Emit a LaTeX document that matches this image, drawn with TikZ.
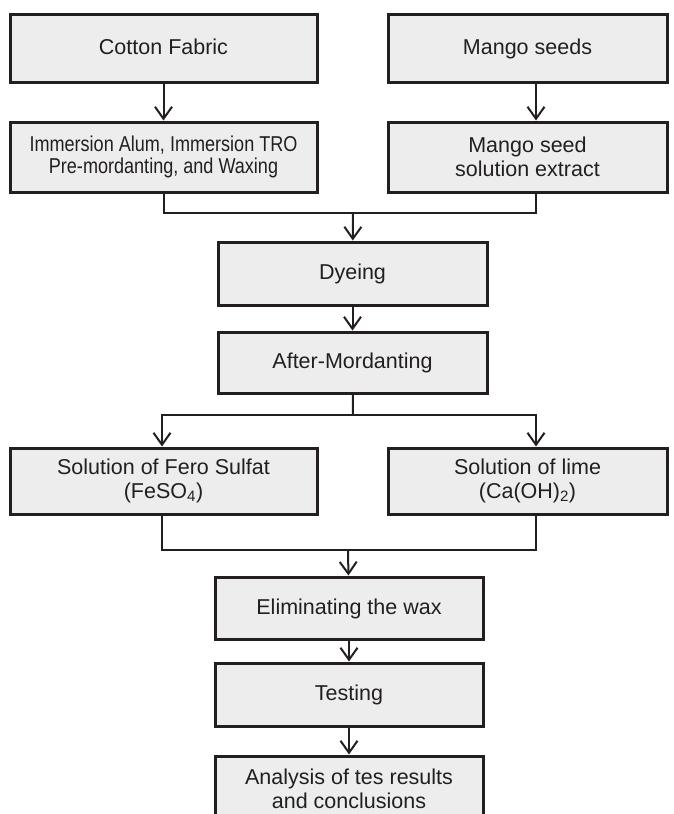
\documentclass[tikz,border=0pt]{standalone}
\usepackage{fontspec}
\setmainfont{Liberation Sans}
\usetikzlibrary{arrows.meta, positioning}
\definecolor{boxgray}{RGB}{237,237,237}
\definecolor{ink}{RGB}{35,31,32}

\begin{document}
\begin{tikzpicture}[x=1pt, y=-1pt,
  box/.style={draw=ink, line width=3pt, fill=boxgray, text=ink, align=center,
    inner sep=0pt, font=\fontsize{21.5}{24}\selectfont},
  oneline/.style={text height=16pt, text depth=4pt},
  link/.style={draw=ink, line width=2pt, line join=miter},
  arr/.style={link, -{Straight Barb[length=12pt, width=17pt, line width=2pt]}}]
\clip (0,0) rectangle (673,814);

% first two rows
\node[box, oneline, minimum width=307, minimum height=68] (cotton) at (163.5,48) {Cotton Fabric};
\node[box, oneline, minimum width=279, minimum height=68] (mango) at (527.5,48) {Mango seeds};
\node[box, minimum width=307, minimum height=70] (immersion) at (163.5,157)
  {\scalebox{0.84}[1]{\shortstack{Immersion Alum, Immersion TRO\\Pre-mordanting, and Waxing}}};
\node[box, minimum width=279, minimum height=70] (extract) at (527.5,157) {Mango seed\\solution extract};

% middle column
\node[box, oneline, minimum width=269, minimum height=63] (dyeing) at (352.5,273.5) {Dyeing};
\node[box, oneline, minimum width=269, minimum height=61] (after) at (352.5,362.5) {After-Mordanting};

% after-mordanting solutions
\node[box, minimum width=307, minimum height=66] (feso) at (163.5,481) {Solution of Fero Sulfat\\(FeSO\textsubscript{4})};
\node[box, minimum width=279, minimum height=66] (lime) at (527.5,481) {Solution of lime\\(Ca(OH)\textsubscript{2})};

% last steps
\node[box, oneline, minimum width=268, minimum height=62] (wax) at (349,608) {Eliminating the wax};
\node[box, oneline, minimum width=268, minimum height=63] (testing) at (349,694.5) {Testing};
\node[box, minimum width=268, minimum height=66] (analysis) at (349,789) {Analysis of tes results\\and conclusions};

\coordinate (join1) at (353,213);
\coordinate (split) at (353,415);
\coordinate (join2) at (348,550);

\draw[arr] (cotton) -- (immersion);
\draw[arr] ([xshift=8.5pt]mango.south) -- ([xshift=8.5pt]extract.north);
\draw[link] (immersion.south) |- (join1) -| ([xshift=8.5pt]extract.south);
\draw[arr] (join1) -- (dyeing);
\draw[arr] (dyeing) -- (after);
\draw[link] (after) -- (split);
\draw[arr] (split) -| ([xshift=-1.5pt]feso.north);
\draw[arr] (split) -| ([xshift=8.5pt]lime.north);
\draw[link] ([xshift=-1.5pt]feso.south) |- (join2) -| ([xshift=8.5pt]lime.south);
\draw[arr] (join2) -- (wax);
\draw[arr] (wax) -- (testing);
\draw[arr] (testing) -- (analysis);
\end{tikzpicture}
\end{document}
